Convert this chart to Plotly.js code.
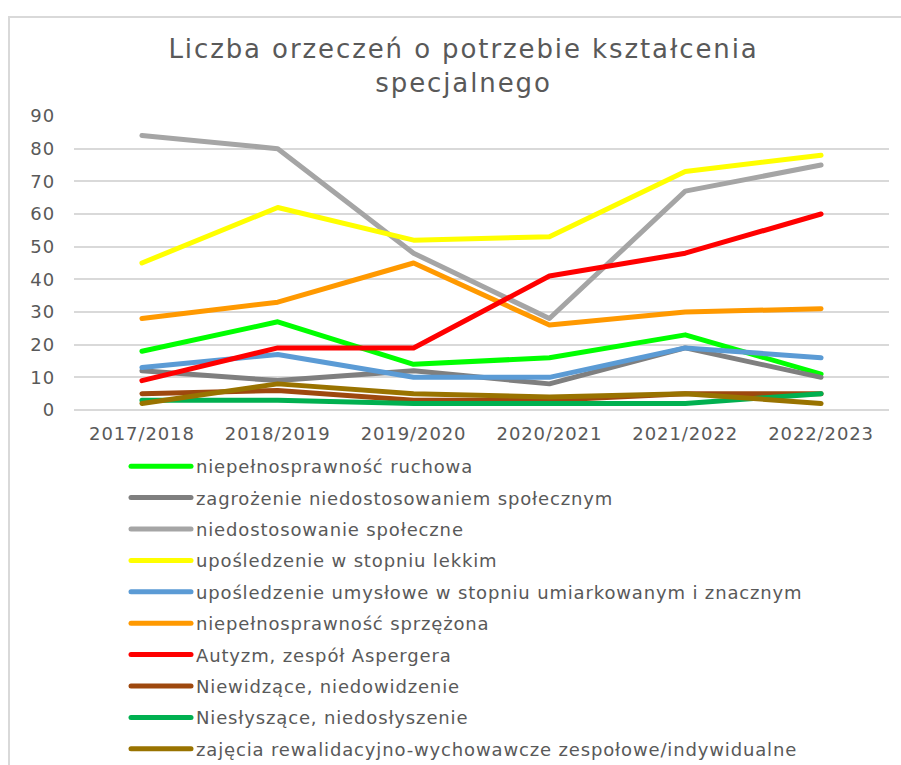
<!DOCTYPE html>
<html>
<head>
<meta charset="utf-8">
<script src="https://cdn.plot.ly/plotly-3.0.1.min.js"></script>
<style>
html, body { margin: 0; padding: 0; background: #ffffff; }
#frame { position: absolute; left: 8px; top: 16px; width: 1000px; height: 1000px; border: 2px solid #D9D9D9; box-sizing: border-box; }
#chart { position: absolute; left: 0; top: 0; width: 901px; height: 765px; }
.scatterlayer .js-line, .legendlines path { stroke-linecap: round; stroke-linejoin: round; }
.gtitle { letter-spacing: 1.9px; }
.xtick text, .ytick text { letter-spacing: 0.9px; }
.legendtext { letter-spacing: 0.85px; }
</style>
</head>
<body>
<div id="frame"></div>
<div id="chart"></div>
<script>
const years = ["2017/2018", "2018/2019", "2019/2020", "2020/2021", "2021/2022", "2022/2023"];

const seriesNames = [
  "niepełnosprawność ruchowa",
  "zagrożenie niedostosowaniem społecznym",
  "niedostosowanie społeczne",
  "upośledzenie w stopniu lekkim",
  "upośledzenie umysłowe w stopniu umiarkowanym i znacznym",
  "niepełnosprawność sprzężona",
  "Autyzm, zespół Aspergera",
  "Niewidzące, niedowidzenie",
  "Niesłyszące, niedosłyszenie",
  "zajęcia rewalidacyjno-wychowawcze zespołowe/indywidualne"
];

const ruchowa        = [18, 27, 14, 16, 23, 11];
const zagrozenie     = [12, 9, 12, 8, 19, 10];
const niedostosowanie= [84, 80, 48, 28, 67, 75];
const lekkim         = [45, 62, 52, 53, 73, 78];
const umiarkowanym   = [13, 17, 10, 10, 19, 16];
const sprzezona      = [28, 33, 45, 26, 30, 31];
const autyzm         = [9, 19, 19, 41, 48, 60];
const niewidzace     = [5, 6, 3, 3, 5, 5];
const nieslyszace    = [3, 3, 2, 2, 2, 5];
const zajecia        = [2, 8, 5, 4, 5, 2];

const seriesValues = [ruchowa, zagrozenie, niedostosowanie, lekkim, umiarkowanym,
                      sprzezona, autyzm, niewidzace, nieslyszace, zajecia];

const colors = ["#00FF00", "#7F7F7F", "#A5A5A5", "#FFFF00", "#5B9BD5",
                "#FF9900", "#FF0000", "#9E480E", "#00B050", "#997300"];

const traces = seriesNames.map((name, i) => ({
  type: "scatter",
  mode: "lines",
  name: name,
  x: years,
  y: seriesValues[i],
  line: { color: colors[i], width: 5 },
  legendgroup: "g" + i,
  hoverinfo: "x+y+name"
}));

const textColor = "#595959";
const font = "DejaVu Sans, Verdana, sans-serif";

const layout = {
  width: 901,
  height: 765,
  paper_bgcolor: "rgba(0,0,0,0)",
  plot_bgcolor: "rgba(0,0,0,0)",
  margin: { l: 74, r: 12, t: 116, b: 355, pad: 0, autoexpand: false },
  font: { family: font, color: textColor },
  title: {
    text: "Liczba orzeczeń o potrzebie kształcenia<br>specjalnego",
    font: { family: font, size: 26, color: textColor },
    xref: "container", x: 0.5145, xanchor: "center",
    yref: "container", y: 1 - 58 / 765, yanchor: "top"
  },
  xaxis: {
    type: "category",
    range: [-0.5, 5.5],
    showgrid: false,
    zeroline: false,
    showline: false,
    ticks: "",
    tickangle: 0,
    tickfont: { family: font, size: 18, color: textColor },
    ticklabelstandoff: 11
  },
  yaxis: {
    range: [0, 90],
    dtick: 10,
    tick0: 0,
    showgrid: true,
    gridcolor: "#D9D9D9",
    gridwidth: 1.5,
    zeroline: true,
    zerolinecolor: "#D9D9D9",
    zerolinewidth: 1.5,
    showline: false,
    ticks: "",
    tickfont: { family: font, size: 18, color: textColor },
    ticklabelstandoff: 18
  },
  showlegend: true,
  legend: {
    orientation: "v",
    traceorder: "grouped",
    tracegroupgap: 5,
    xref: "container", x: 126 / 901, xanchor: "left",
    yref: "container", y: 1 - 448 / 765, yanchor: "top",
    font: { family: font, size: 18, color: textColor },
    itemwidth: 60,
    bgcolor: "rgba(0,0,0,0)",
    borderwidth: 0
  },
  hovermode: "closest"
};

Plotly.newPlot("chart", traces, layout, { displayModeBar: false, responsive: false });
</script>
</body>
</html>
